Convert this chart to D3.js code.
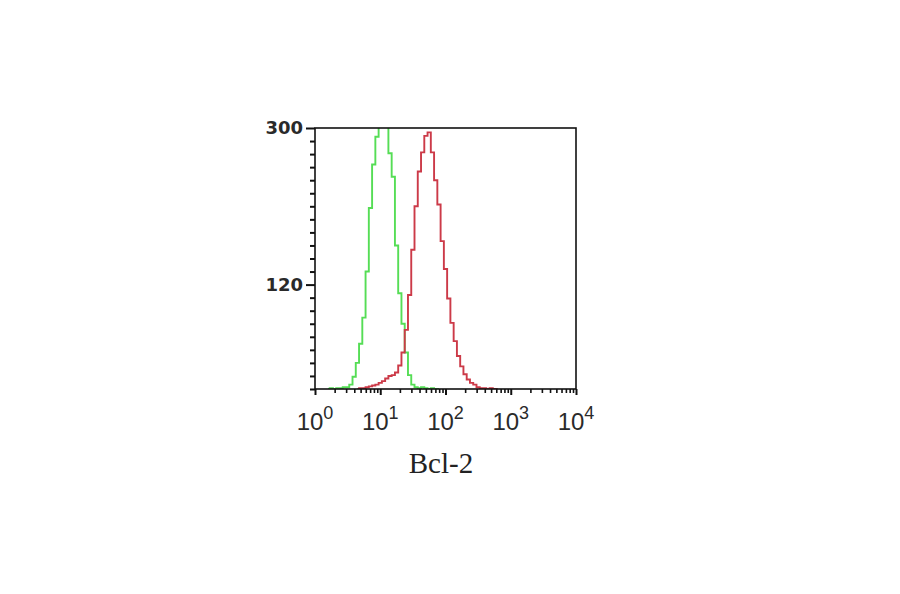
<!DOCTYPE html>
<html>
<head>
<meta charset="utf-8">
<script src="https://cdn.jsdelivr.net/npm/d3@7"></script>
<style>
  body { margin: 0; background: #fff; }
  svg { display: block; }
</style>
</head>
<body>
<div id="container"></div>
<script>
// the data, positions are log10 of the channel (bin start)
const greenLog = [0.20, 0.25, 0.30, 0.35, 0.40, 0.45, 0.50, 0.55, 0.60, 0.65, 0.70, 0.75, 0.80, 0.85, 0.90, 0.95,
  1.00, 1.05, 1.10, 1.15, 1.20, 1.25, 1.30, 1.35, 1.40, 1.45, 1.50, 1.55, 1.60, 1.65, 1.70, 1.75, 1.80, 1.85, 1.90];
const greenCount = [0, 1, 0, 1, 1, 2, 2, 5, 14, 30, 52, 82, 135, 208, 258, 290,
  330, 340, 315, 271, 244, 165, 110, 75, 42, 16, 5, 2, 1, 2, 1, 0, 1, 0, 0];

const redLog = [0.65, 0.70, 0.75, 0.80, 0.85, 0.90, 0.95, 1.00, 1.05, 1.10, 1.15, 1.20, 1.25, 1.30, 1.35, 1.40,
  1.45, 1.50, 1.55, 1.60, 1.65, 1.70, 1.75, 1.80, 1.85, 1.90, 1.95, 2.00, 2.05, 2.10, 2.15, 2.20, 2.25, 2.30,
  2.35, 2.40, 2.45, 2.50, 2.55, 2.60, 2.65, 2.70, 2.75, 2.80];
const redCount = [0, 1, 1, 2, 3, 4, 5, 7, 9, 12, 15, 16, 19, 27, 42, 68,
  108, 160, 210, 250, 272, 291, 295, 272, 240, 212, 170, 138, 104, 76, 55, 38, 26, 17,
  11, 7, 5, 2, 1, 1, 0, 1, 0, 0];

// ticks
const yLabelTicks = [120, 300];
const yMinorTicks = [0, 15, 30, 45, 60, 75, 90, 105, 135, 150, 165, 180, 195, 210, 225, 240, 255, 270, 285];
const xDecades = [1, 10, 100, 1000, 10000];
const xExponents = ["0", "1", "2", "3", "4"];
const xTitle = "Bcl-2";

// everything about the drawing lives here
const CHART = {};
CHART.box = { left: 315, right: 576, top: 128, bottom: 389 };
CHART.colors = { green: "#55dd55", red: "#cc3a48", axis: "#111" };

CHART.svg = d3.select("#container").append("svg")
  .attr("width", 900)
  .attr("height", 594);

CHART.x = d3.scaleLog().domain([1, 10000]).range([CHART.box.left, CHART.box.right]);
CHART.y = d3.scaleLinear().domain([0, 300]).range([CHART.box.bottom, CHART.box.top]);

// clip so the green peak gets cut at the top like in the original
CHART.svg.append("clipPath").attr("id", "plotclip")
  .append("rect")
  .attr("x", CHART.box.left)
  .attr("y", CHART.box.top)
  .attr("width", CHART.box.right - CHART.box.left)
  .attr("height", CHART.box.bottom - CHART.box.top);

CHART.line = d3.line()
  .x(d => CHART.x(Math.pow(10, d[0])))
  .y(d => CHART.y(d[1]))
  .curve(d3.curveStep);

const series = [
  { pts: d3.zip(greenLog, greenCount), color: CHART.colors.green },
  { pts: d3.zip(redLog, redCount), color: CHART.colors.red }
];

CHART.svg.append("g")
  .attr("clip-path", "url(#plotclip)")
  .selectAll("path")
  .data(series)
  .join("path")
  .attr("d", d => CHART.line(d.pts))
  .attr("fill", "none")
  .attr("stroke", d => d.color)
  .attr("stroke-width", 1.9);

// frame around the plot
CHART.svg.append("rect")
  .attr("x", CHART.box.left)
  .attr("y", CHART.box.top)
  .attr("width", CHART.box.right - CHART.box.left)
  .attr("height", CHART.box.bottom - CHART.box.top)
  .attr("fill", "none")
  .attr("stroke", CHART.colors.axis)
  .attr("stroke-width", 1.6);

// y axis, minor ticks first then the labelled ones
CHART.svg.append("g")
  .attr("transform", `translate(${CHART.box.left},0)`)
  .call(d3.axisLeft(CHART.y).tickValues(yMinorTicks).tickSize(5).tickFormat(""))
  .call(g => g.select(".domain").remove())
  .call(g => g.selectAll("line").attr("stroke", CHART.colors.axis).attr("stroke-width", 2));

CHART.svg.append("g")
  .attr("transform", `translate(${CHART.box.left},0)`)
  .call(d3.axisLeft(CHART.y).tickValues(yLabelTicks).tickSize(9).tickPadding(3).tickFormat(d3.format("d")))
  .call(g => g.select(".domain").remove())
  .call(g => g.selectAll("line").attr("stroke", CHART.colors.axis).attr("stroke-width", 2))
  .call(g => g.selectAll("text")
    .attr("font-family", "DejaVu Sans")
    .attr("font-weight", "bold")
    .attr("font-size", 18)
    .attr("fill", "#2a2a2a"));

// x axis minor ticks 2..9 in each decade
const xMinor = [];
xDecades.slice(0, -1).forEach(d => { for (let k = 2; k < 10; k++) xMinor.push(d * k); });

CHART.svg.append("g")
  .attr("transform", `translate(0,${CHART.box.bottom})`)
  .call(d3.axisBottom(CHART.x).tickValues(xMinor).tickSize(4).tickFormat(""))
  .call(g => g.select(".domain").remove())
  .call(g => g.selectAll("line").attr("stroke", CHART.colors.axis).attr("stroke-width", 1.6));

CHART.svg.append("g")
  .attr("transform", `translate(0,${CHART.box.bottom})`)
  .call(d3.axisBottom(CHART.x).tickValues(xDecades).tickSize(6).tickFormat(""))
  .call(g => g.select(".domain").remove())
  .call(g => g.selectAll("line").attr("stroke", CHART.colors.axis).attr("stroke-width", 2));

// the 10^n labels done by hand since axis can't do superscripts nicely
const xLab = CHART.svg.append("g").selectAll("text")
  .data(xDecades)
  .join("text")
  .attr("x", d => CHART.x(d))
  .attr("y", CHART.box.bottom + 41)
  .attr("text-anchor", "middle")
  .attr("font-family", "Liberation Sans")
  .attr("font-size", 24)
  .attr("fill", "#2a2a2a");
xLab.append("tspan").text("10");
xLab.append("tspan")
  .attr("dy", -11)
  .attr("font-size", 18)
  .text((d, i) => xExponents[i]);

// axis title
CHART.svg.append("text")
  .attr("x", 441)
  .attr("y", 473)
  .attr("text-anchor", "middle")
  .attr("font-family", "Liberation Serif")
  .attr("font-size", 29)
  .attr("fill", "#222")
  .text(xTitle);
</script>
</body>
</html>
